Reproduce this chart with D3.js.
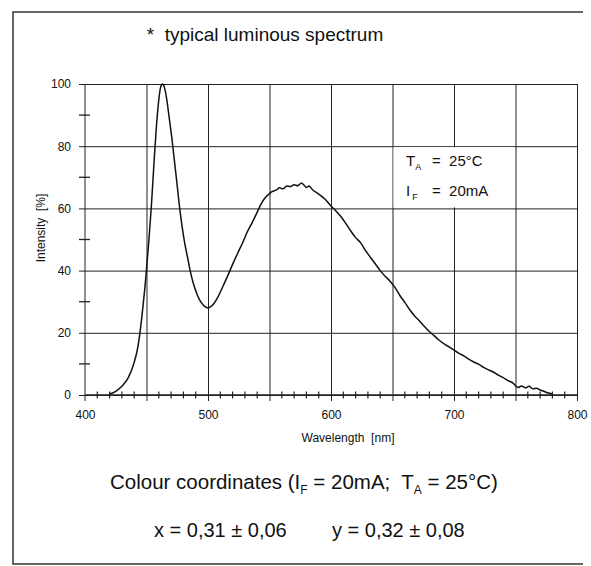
<!DOCTYPE html>
<html>
<head>
<meta charset="utf-8">
<script src="https://cdn.jsdelivr.net/npm/d3@7"></script>
<style>
  body { margin: 0; background: #fff; }
  text { font-family: "Liberation Sans", Arial, sans-serif; fill: #111; white-space: pre; }
  .grid line { stroke: #222; stroke-width: 1; }
  .grid path { display: none; }
</style>
</head>
<body>
<svg id="spectrum"></svg>
<script>
// ---- DATA ---- //
// wavelength in nm, relative intensity in %
const wavelength = [420, 425, 430, 435, 440, 443, 445, 447, 449.5, 452, 454, 456, 458, 460, 461.5, 463, 464.5, 466.5, 468.5, 470.5,
  472.5, 474.5, 477, 479, 481, 483.5, 485.5, 488, 491, 494, 497, 500, 502, 505, 508, 512, 516, 520, 524, 528,
  532, 536, 540, 543, 546, 549, 552, 556, 558, 561, 564, 567, 570, 573, 576, 578, 580, 582, 585, 590,
  595, 600, 604, 608, 612, 616, 620, 624, 628, 632, 636, 640, 644, 648, 652, 656, 660, 664, 668, 672,
  676, 680, 684, 688, 692, 696, 700, 704, 708, 712, 716, 720, 724, 728, 732, 736, 740, 744, 748, 750,
  752, 755, 758, 761, 764, 767, 770, 773, 776, 780];
const intensity = [0.3, 1.2, 2.8, 5.4, 10.5, 15.5, 21, 28, 38, 50, 61, 74, 86, 95, 99, 100, 99, 95, 89, 83,
  76, 69, 60, 54, 49, 44, 40, 36, 32.5, 30, 28.6, 28, 28.3, 29.5, 31.5, 34.8, 38.3, 42, 45.5, 48.8,
  52.5, 55.5, 58.8, 61.3, 63.2, 64.4, 65.4, 66.0, 66.6, 66.3, 67.2, 67.0, 67.6, 67.3, 68.2, 67.5, 66.7, 67.2, 66.0, 64.6,
  63.0, 60.8, 59.2, 57.4, 55.2, 52.8, 50.6, 49.0, 46.5, 44.3, 42.2, 40.0, 38.2, 36.6, 34.6, 32.0, 29.8, 27.4, 25.4, 23.8,
  22.0, 20.4, 19.0, 17.6, 16.4, 15.5, 14.4, 13.4, 12.6, 11.5, 10.6, 9.9, 8.9, 8.1, 7.4, 6.4, 5.6, 4.6, 3.8, 3.0,
  2.4, 2.9, 2.3, 2.8, 2.0, 2.2, 1.6, 1.2, 0.7, 0.3];

const xTickValues = [400, 500, 600, 700, 800];
const xGridValues = [450, 500, 550, 600, 650, 700, 750, 800];
const yTickValues = [0, 20, 40, 60, 80, 100];
const yMinorValues = [10, 30, 50, 70, 90];

// ---- THE CHART ---- //
const W = 591, H = 566;
const plot = {left: 85, right: 577, top: 84, bottom: 395};

const svg = d3.select("#spectrum")
  .attr("width", W)
  .attr("height", H);

// outer frame (left, top, bottom edges of the scan)
svg.append("path")
  .attr("d", "M583,12 H13 V564 H583")
  .attr("fill", "none")
  .attr("stroke", "#333")
  .attr("stroke-width", 1.5);

// scales
const x = d3.scaleLinear().domain([400, 800]).range([plot.left, plot.right]);
const y = d3.scaleLinear().domain([0, 100]).range([plot.bottom, plot.top]);

// vertical grid (drops a little below the axis)
svg.append("g")
  .attr("class", "grid")
  .attr("transform", "translate(0," + (plot.bottom + 6) + ")")
  .call(d3.axisBottom(x).tickValues(xGridValues).tickSize(-(plot.bottom + 6 - plot.top)).tickFormat(""));

// horizontal grid (sticks out a little left of the axis)
svg.append("g")
  .attr("class", "grid")
  .attr("transform", "translate(" + (plot.left - 6) + ",0)")
  .call(d3.axisLeft(y).tickValues(yTickValues).tickSize(-(plot.right - plot.left + 6)).tickFormat(""));

// y axis line
svg.append("line")
  .attr("x1", plot.left).attr("x2", plot.left)
  .attr("y1", plot.top).attr("y2", plot.bottom + 6)
  .attr("stroke", "#222");

// minor ticks on y axis
svg.selectAll(".yminor")
  .data(yMinorValues)
  .enter().append("line")
    .attr("class", "yminor")
    .attr("x1", plot.left - 6).attr("x2", plot.left + 5)
    .attr("y1", d => y(d)).attr("y2", d => y(d))
    .attr("stroke", "#222").attr("stroke-width", 1.3);

// minor ticks on x axis
svg.selectAll(".xminor")
  .data(d3.range(410, 800, 10).filter(d => d % 50 != 0))
  .enter().append("line")
    .attr("class", "xminor")
    .attr("x1", d => x(d)).attr("x2", d => x(d))
    .attr("y1", plot.bottom - 3.5).attr("y2", plot.bottom + 3.5)
    .attr("stroke", "#222").attr("stroke-width", 1.2);

// axis labels via d3 axes
const xAxis = svg.append("g")
  .attr("transform", "translate(0," + plot.bottom + ")")
  .call(d3.axisBottom(x).tickValues(xTickValues).tickSize(0).tickPadding(15));
xAxis.select(".domain").remove();
xAxis.selectAll("text").style("font-size", "12px").style("font-family", "Liberation Sans, Arial, sans-serif");

const yAxis = svg.append("g")
  .attr("transform", "translate(" + plot.left + ",0)")
  .call(d3.axisLeft(y).tickValues(yTickValues).tickSize(0).tickPadding(14));
yAxis.select(".domain").remove();
yAxis.selectAll("text").style("font-size", "12px").style("font-family", "Liberation Sans, Arial, sans-serif");

// x axis baseline
svg.append("line")
  .attr("x1", plot.left).attr("x2", plot.right)
  .attr("y1", plot.bottom).attr("y2", plot.bottom)
  .attr("stroke", "#222").attr("stroke-width", 1.4);

// ---- THE CURVE ---- //
const points = wavelength.map((w, i) => ({x: w, y: intensity[i]}));
const line = d3.line()
  .x(d => x(d.x))
  .y(d => y(d.y))
  .curve(d3.curveMonotoneX);

svg.append("path")
  .attr("d", line(points))
  .attr("fill", "none")
  .attr("stroke", "#111")
  .attr("stroke-width", 1.5);

// ---- CONDITIONS BOX ---- //
svg.append("rect")
  .attr("x", x(650) + 1).attr("y", y(80) + 1)
  .attr("width", x(750) - x(650) - 2).attr("height", y(60) - y(80) - 2)
  .attr("fill", "#fff");

const ta = svg.append("text").attr("x", 406).attr("y", 166).style("font-size", "15px");
ta.append("tspan").text("T");
ta.append("tspan").attr("dy", 4).style("font-size", "9px").text("A");
ta.append("tspan").attr("dy", -4).attr("x", 432).text("=  25°C");

const ifl = svg.append("text").attr("x", 406).attr("y", 196).style("font-size", "15px");
ifl.append("tspan").text("I");
ifl.append("tspan").attr("dy", 4).attr("dx", 2).style("font-size", "9px").text("F");
ifl.append("tspan").attr("dy", -4).attr("x", 432).text("=  20mA");

// ---- TEXTS ---- //
svg.append("text")
  .attr("x", 265).attr("y", 41)
  .attr("text-anchor", "middle")
  .style("font-size", "19px")
  .text("*  typical luminous spectrum");

svg.append("text")
  .attr("x", 348).attr("y", 442)
  .attr("text-anchor", "middle")
  .style("font-size", "12px")
  .text("Wavelength  [nm]");

svg.append("text")
  .attr("transform", "translate(45,228) rotate(-90)")
  .attr("text-anchor", "middle")
  .style("font-size", "12px")
  .text("Intensity  [%]");

const cc = svg.append("text").attr("x", 110).attr("y", 489).style("font-size", "20.5px");
cc.append("tspan").text("Colour coordinates (I");
cc.append("tspan").attr("dy", 5).style("font-size", "12px").text("F");
cc.append("tspan").attr("dy", -5).text(" = 20mA;  T");
cc.append("tspan").attr("dy", 5).style("font-size", "12px").text("A");
cc.append("tspan").attr("dy", -5).text(" = 25°C)");

svg.append("text")
  .attr("x", 154).attr("y", 537)
  .style("font-size", "20px")
  .text("x = 0,31 ± 0,06");

svg.append("text")
  .attr("x", 332).attr("y", 537)
  .style("font-size", "20px")
  .text("y = 0,32 ± 0,08");
</script>
</body>
</html>
